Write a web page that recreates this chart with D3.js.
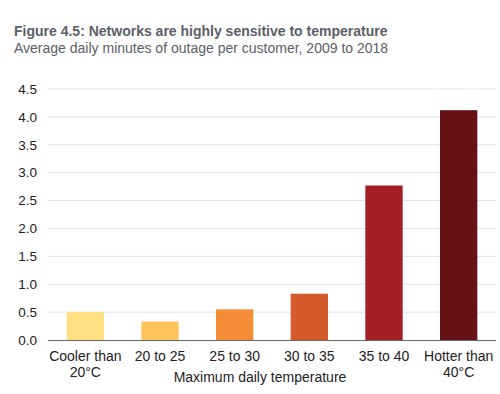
<!DOCTYPE html>
<html>
<head>
<meta charset="utf-8">
<style>
  body { margin: 0; background: #fff; }
  text { font-family: Arial, "Liberation Sans", sans-serif; }
</style>
<script src="https://d3js.org/d3.v7.min.js"></script>
</head>
<body>
<script>
// data
var categories = [["Cooler than", "20°C"], ["20 to 25"], ["25 to 30"], ["30 to 35"], ["35 to 40"], ["Hotter than", "40°C"]];
var values = [0.50, 0.33, 0.55, 0.83, 2.77, 4.12];
var colors = ["#fee083", "#fdc45c", "#f58d36", "#d55a2c", "#a21f26", "#651116"];
var yTicks = [0, 0.5, 1, 1.5, 2, 2.5, 3, 3.5, 4, 4.5];

var width = 500, height = 394;
var svg = d3.select("body").append("svg")
  .attr("width", width).attr("height", height);

var x = d3.scaleBand()
  .domain(d3.range(values.length))
  .range([48, 496])
  .paddingInner(0.5).paddingOuter(0.25);

var y = d3.scaleLinear().domain([0, 4.5]).range([340, 89]);

// title
svg.append("text").attr("x", 14).attr("y", 36)
  .style("font-size", "14px").style("font-weight", "bold").style("fill", "#5b6068")
  .text("Figure 4.5: Networks are highly sensitive to temperature");
svg.append("text").attr("x", 14).attr("y", 53)
  .style("font-size", "14px").style("fill", "#5b6068")
  .text("Average daily minutes of outage per customer, 2009 to 2018");

// grid
svg.append("g").selectAll("line")
  .data(yTicks.filter(function(d) { return d > 0; }))
  .enter().append("line")
  .attr("x1", 48).attr("x2", 496)
  .attr("y1", function(d) { return y(d); }).attr("y2", function(d) { return y(d); })
  .style("stroke", "#e2e2e2").style("stroke-width", 1);

// y labels
svg.append("g").selectAll("text")
  .data(yTicks).enter().append("text")
  .attr("x", 37).attr("y", function(d) { return y(d); })
  .attr("dy", "0.35em").attr("text-anchor", "end")
  .style("font-size", "13.5px").style("fill", "#222")
  .text(function(d) { return d3.format(".1f")(d); });

// bars
svg.append("g").selectAll("rect")
  .data(values).enter().append("rect")
  .attr("x", function(d, i) { return x(i); })
  .attr("width", x.bandwidth())
  .attr("y", function(d) { return y(d); })
  .attr("height", function(d) { return y(0) - y(d); })
  .style("fill", function(d, i) { return colors[i]; });

// baseline
svg.append("line")
  .attr("x1", 48).attr("x2", 496).attr("y1", y(0) + 0.5).attr("y2", y(0) + 0.5)
  .style("stroke", "#666").style("stroke-width", 1);

// category labels
var cat = svg.append("g").selectAll("text")
  .data(categories).enter().append("text")
  .attr("x", function(d, i) { return x(i) + x.bandwidth() / 2; })
  .attr("y", 361)
  .attr("text-anchor", "middle")
  .style("font-size", "14px").style("fill", "#222");
cat.selectAll("tspan")
  .data(function(d) { return d; }).enter().append("tspan")
  .attr("x", function() { return d3.select(this.parentNode).attr("x"); })
  .attr("dy", function(d, i) { return i === 0 ? 0 : 16; })
  .text(function(d) { return d; });

// axis title
svg.append("text").attr("x", 260).attr("y", 382)
  .attr("text-anchor", "middle")
  .style("font-size", "14px").style("fill", "#222")
  .text("Maximum daily temperature");
</script>
</body>
</html>
